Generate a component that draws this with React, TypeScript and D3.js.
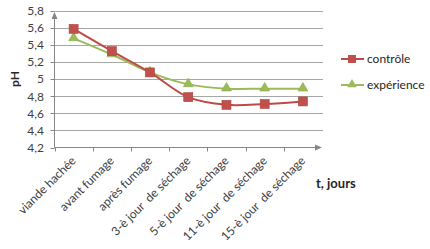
import React, { useEffect, useRef } from "react";
import * as d3 from "d3";

const categories = [
  "viande hachée",
  "avant fumage",
  "après fumage",
  "3-è jour  de séchage",
  "5-è jour  de séchage",
  "11-è jour  de séchage",
  "15-è jour  de séchage",
];

const controle = [5.59, 5.33, 5.08, 4.79, 4.7, 4.71, 4.74];
const experience = [5.48, 5.29, 5.08, 4.94, 4.89, 4.89, 4.89];

const yTicks = [4.2, 4.4, 4.6, 4.8, 5, 5.2, 5.4, 5.6, 5.8];

const RED = "#be4b48";
const GREEN = "#9bbb59";
const FONT = "Lato, 'Open Sans', sans-serif";

const App: React.FC = () => {
  const svgRef = useRef<SVGSVGElement | null>(null);

  useEffect(() => {
    if (!svgRef.current) return;
    const svg = d3.select(svgRef.current);
    svg.selectAll("*").remove();

    const left = 54.5;
    const right = 322;
    const top = 11;
    const bottom = 147.5;

    const x = d3.scaleBand<string>().domain(categories).range([left, right]);
    const y = d3.scaleLinear().domain([4.2, 5.8]).range([bottom, top]);
    const cx = (c: string) => (x(c) || 0) + x.bandwidth() / 2;

    // Gridlines
    svg
      .append("g")
      .selectAll("line")
      .data(yTicks.slice(1))
      .join("line")
      .attr("x1", left)
      .attr("x2", right + 1)
      .attr("y1", (d) => Math.round(y(d)) + 0.5)
      .attr("y2", (d) => Math.round(y(d)) + 0.5)
      .attr("stroke", "#a6a6a6")
      .attr("stroke-width", 1);

    // Y tick labels
    svg
      .append("g")
      .selectAll("text")
      .data(yTicks)
      .join("text")
      .attr("x", 44)
      .attr("y", (d) => y(d))
      .attr("dy", "0.35em")
      .attr("text-anchor", "end")
      .attr("font-family", FONT)
      .attr("font-size", 12)
      .attr("fill", "#404040")
      .text((d) => String(d).replace(".", ","));

    // Y tick marks
    svg
      .append("g")
      .selectAll("line")
      .data(yTicks)
      .join("line")
      .attr("x1", left - 4)
      .attr("x2", left)
      .attr("y1", (d) => Math.round(y(d)) + 0.5)
      .attr("y2", (d) => Math.round(y(d)) + 0.5)
      .attr("stroke", "#868686");

    // Axes
    svg
      .append("line")
      .attr("x1", left)
      .attr("x2", left)
      .attr("y1", bottom)
      .attr("y2", 15)
      .attr("stroke", "#868686");
    svg
      .append("path")
      .attr("d", `M${left},12 L${left - 3},19 L${left + 3},19 Z`)
      .attr("fill", "#868686");

    svg
      .append("line")
      .attr("x1", left)
      .attr("x2", right - 2)
      .attr("y1", bottom)
      .attr("y2", bottom)
      .attr("stroke", "#868686");
    svg
      .append("path")
      .attr("d", `M${right},${bottom} L${right - 7},${bottom - 3} L${right - 7},${bottom + 3} Z`)
      .attr("fill", "#868686");

    // X tick marks at band boundaries
    svg
      .append("g")
      .selectAll("line")
      .data(categories)
      .join("line")
      .attr("x1", (d) => Math.round(x(d) || 0) + 0.5)
      .attr("x2", (d) => Math.round(x(d) || 0) + 0.5)
      .attr("y1", bottom)
      .attr("y2", bottom + 4)
      .attr("stroke", "#868686");

    // X labels
    svg
      .append("g")
      .selectAll("text")
      .data(categories)
      .join("text")
      .attr("transform", (d) => `translate(${cx(d) + 3},${bottom + 14}) rotate(-45)`)
      .attr("text-anchor", "end")
      .attr("font-family", FONT)
      .attr("font-size", 12)
      .attr("fill", "#404040")
      .attr("xml:space", "preserve")
      .style("white-space", "pre")
      .text((d) => d);

    // Axis titles
    svg
      .append("text")
      .attr("transform", `translate(19,79) rotate(-90)`)
      .attr("text-anchor", "middle")
      .attr("font-family", FONT)
      .attr("font-size", 12)
      .attr("font-weight", "bold")
      .attr("fill", "#262626")
      .text("pH");

    svg
      .append("text")
      .attr("x", 316)
      .attr("y", 188)
      .attr("font-family", FONT)
      .attr("font-size", 13)
      .attr("font-weight", "bold")
      .attr("fill", "#262626")
      .text("t, jours");

    const line = d3
      .line<number>()
      .x((_, i) => cx(categories[i]))
      .y((d) => y(d))
      .curve(d3.curveCatmullRom.alpha(0.5));

    // Experience series
    svg
      .append("path")
      .attr("d", line(experience) || "")
      .attr("fill", "none")
      .attr("stroke", GREEN)
      .attr("stroke-width", 2);
    svg
      .append("g")
      .selectAll("path")
      .data(experience)
      .join("path")
      .attr("d", d3.symbol(d3.symbolTriangle, 42))
      .attr("transform", (d, i) => `translate(${cx(categories[i])},${y(d) - 0.5})`)
      .attr("fill", GREEN)
      .attr("stroke", "#8aaa4a")
      .attr("stroke-width", 0.6);

    // Controle series
    svg
      .append("path")
      .attr("d", line(controle) || "")
      .attr("fill", "none")
      .attr("stroke", RED)
      .attr("stroke-width", 2);
    svg
      .append("g")
      .selectAll("rect")
      .data(controle)
      .join("rect")
      .attr("x", (_, i) => cx(categories[i]) - 4.5)
      .attr("y", (d) => y(d) - 4.5)
      .attr("width", 9)
      .attr("height", 9)
      .attr("fill", "#c0504d")
      .attr("stroke", "#b04440")
      .attr("stroke-width", 0.6);

    // Legend
    const legend = [
      { name: "contrôle", color: RED, y: 59, shape: "square" },
      { name: "expérience", color: GREEN, y: 85, shape: "triangle" },
    ];
    const lg = svg.append("g");
    legend.forEach((l) => {
      lg.append("line")
        .attr("x1", 341)
        .attr("x2", 364)
        .attr("y1", l.y)
        .attr("y2", l.y)
        .attr("stroke", l.color)
        .attr("stroke-width", 2);
      if (l.shape === "square") {
        lg.append("rect")
          .attr("x", 348)
          .attr("y", l.y - 4)
          .attr("width", 8)
          .attr("height", 8)
          .attr("fill", "#c0504d");
      } else {
        lg.append("path")
          .attr("d", d3.symbol(d3.symbolTriangle, 38))
          .attr("transform", `translate(352,${l.y - 0.5})`)
          .attr("fill", GREEN);
      }
      lg.append("text")
        .attr("x", 367)
        .attr("y", l.y)
        .attr("dy", "0.35em")
        .attr("font-family", FONT)
        .attr("font-size", 12)
        .attr("fill", "#262626")
        .text(l.name);
    });
  }, []);

  return (
    <svg
      ref={svgRef}
      width={430}
      height={249}
      style={{ position: "absolute", left: 0, top: 0, background: "#fff" }}
    />
  );
};

export default App;
